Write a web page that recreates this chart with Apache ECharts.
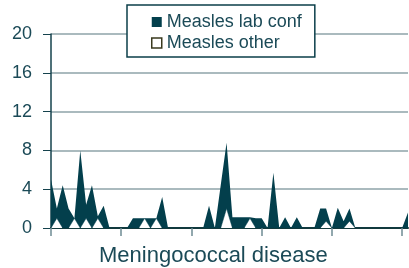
<!DOCTYPE html>
<html>
<head>
<meta charset="utf-8">
<script src="https://cdn.jsdelivr.net/npm/echarts@6/dist/echarts.min.js"></script>
<style>
  html, body { margin: 0; padding: 0; background: #fff; }
  #chart { width: 409px; height: 268px; }
</style>
</head>
<body>
<div id="chart"></div>
<script>
// weekly counts (62 weeks, tick every 12)
const weeks = Array.from({ length: 62 }, (_, i) => String(i + 1));
const labConf = [
  5, 1, 4.4, 2, 0, 8, 1.4, 4.4, 0.2, 2.3,
  0, 0, 0, 0, 1, 1, 0, 1, 0, 3.2,
  0, 0, 0, 0, 0, 0, 0, 2.3, 0, 4.4,
  6.8, 1.1, 1.1, 1.1, 0.1, 1, 1, 0, 5.7, 0,
  1.1, 0, 1.1, 0, 0, 0, 2, 1.3, 0, 2.1,
  0.7, 1.3, 0, 0, 0, 0, 0, 0, 0, 0,
  0, 1.6
];
const other = [
  0, 1, 0, 0, 1, 0, 1, 0, 1, 0,
  0, 0, 0, 0, 0, 0, 1, 0, 1, 0,
  0, 0, 0, 0, 0, 0, 0, 0, 0, 0,
  2, 0, 0, 0, 1, 0, 0, 0, 0, 0,
  0, 0, 0, 0, 0, 0, 0, 0.7, 0, 0,
  0, 0.7, 0, 0, 0, 0, 0, 0, 0, 0,
  0, 0
];
const yTicks = [0, 4, 8, 12, 16, 20];

const DARK = '#033f4c';
const TEXT = '#1b4a57';

const chart = echarts.init(document.getElementById('chart'));

chart.setOption({
  animation: false,
  title: {
    text: 'Meningococcal disease',
    left: 94,
    top: 240,
    textStyle: { fontFamily: 'Liberation Sans', fontSize: 22, fontWeight: 'normal', color: TEXT }
  },
  legend: {
    orient: 'vertical',
    left: 127,
    top: 5,
    padding: [8, 13, 5, 24],
    itemWidth: 10,
    itemHeight: 10,
    itemGap: 3,
    icon: 'rect',
    backgroundColor: '#fff',
    borderColor: '#0b3f4a',
    borderWidth: 1.5,
    textStyle: { fontFamily: 'Liberation Sans', fontSize: 18, color: TEXT },
    data: [
      { name: 'Measles lab conf', itemStyle: { color: DARK } },
      { name: 'Measles other', itemStyle: { color: '#fff', borderColor: '#3a3a1e', borderWidth: 1.5 } }
    ]
  },
  grid: { left: 51, right: 1, top: 34, bottom: 40 },
  xAxis: {
    type: 'category',
    data: weeks,
    boundaryGap: false,
    axisLine: { lineStyle: { color: '#143a3c', width: 2 } },
    axisTick: { interval: 11, length: 8, lineStyle: { color: '#6f8c94', width: 1.5 } },
    axisLabel: { show: false },
    splitLine: { show: false }
  },
  yAxis: {
    type: 'value',
    min: yTicks[0],
    max: yTicks[yTicks.length - 1],
    interval: 4,
    axisLine: { show: true, lineStyle: { color: '#15424d', width: 1.5 } },
    axisTick: { show: true, length: 8, lineStyle: { color: '#15424d' } },
    axisLabel: { margin: 19, fontFamily: 'Liberation Sans', fontSize: 18, color: TEXT },
    splitLine: { lineStyle: { color: '#8ea3a8', width: 1.5 } }
  },
  series: [
    {
      name: 'Measles other',
      type: 'line',
      stack: 'total',
      data: other,
      symbol: 'none',
      itemStyle: { color: '#fff', borderColor: '#3a3a1e' },
      lineStyle: { color: DARK, width: 0.5 },
      areaStyle: { color: '#fff', opacity: 1 }
    },
    {
      name: 'Measles lab conf',
      type: 'line',
      stack: 'total',
      data: labConf,
      symbol: 'none',
      itemStyle: { color: DARK },
      lineStyle: { width: 0 },
      areaStyle: { color: DARK, opacity: 1 }
    }
  ]
});
</script>
</body>
</html>
